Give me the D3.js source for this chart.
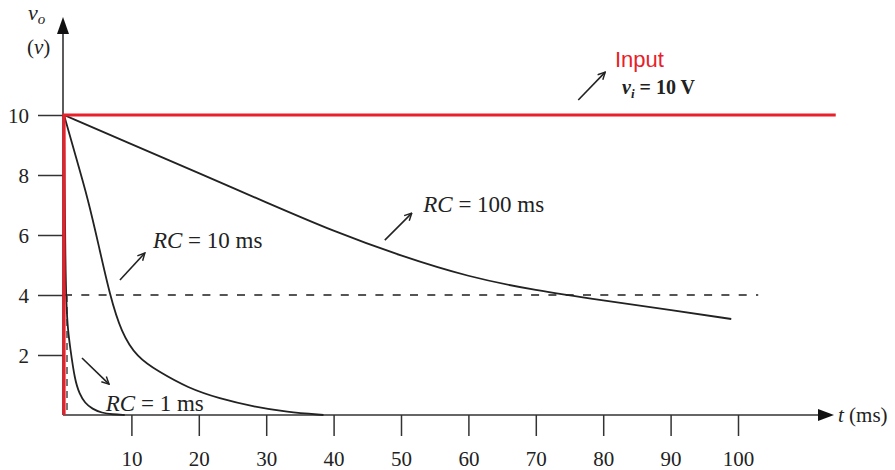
<!DOCTYPE html>
<html>
<head>
<meta charset="utf-8">
<script src="https://cdn.jsdelivr.net/npm/d3@7"></script>
<style>
  body { margin: 0; background: #fff; }
  svg text { fill: #222; }
</style>
</head>
<body>
<div id="chart"></div>
<script>
// tick labels
const xTicks = [10, 20, 30, 40, 50, 60, 70, 80, 90, 100];
const yTicks = [2, 4, 6, 8, 10];

// input step, vi = 10 V
const inputT = [0, 0, 114.5];
const inputV = [0, 10, 10];

// output curves (t in ms, vo in V)
const rc1T = [0, 0.1, 0.2, 0.35, 0.6, 0.9, 1.6, 2.3, 3.1, 4.2, 5.6, 7.2, 9];
const rc1V = [10, 7.5, 5.2, 3.6, 2.8, 2.27, 1.17, 0.7, 0.4, 0.2, 0.07, 0.02, 0];

const rc10T = [0, 1.6, 3.6, 5.2, 6.8, 8.5, 10.8, 14, 18.4, 23, 28.3, 33, 38.5];
const rc10V = [10, 8.73, 7.17, 5.6, 4.0, 2.75, 1.93, 1.45, 0.9, 0.55, 0.27, 0.1, 0];

const rc100T = [0, 10, 20, 30, 40, 50, 60, 70, 80, 90, 99];
const rc100V = [10, 9.03, 8.06, 7.09, 6.12, 5.3, 4.6, 4.15, 3.82, 3.5, 3.2];

// the 4 V reference line
const refT = [0, 103];
const refV = [4, 4];

const width = 895;
const height = 470;
const serif = "'Liberation Serif', 'DejaVu Serif', serif";

const svg = d3.select("#chart")
  .append("svg")
  .attr("width", width)
  .attr("height", height)
  .style("font-family", serif);

const x = d3.scaleLinear().domain([0, 100]).range([64, 738]);
const y = d3.scaleLinear().domain([0, 10]).range([415, 115]);

// open arrow head used by the annotations
svg.append("defs").append("marker")
  .attr("id", "open")
  .attr("viewBox", "0 0 10 10")
  .attr("refX", 9).attr("refY", 5)
  .attr("markerWidth", 9).attr("markerHeight", 9)
  .attr("markerUnits", "userSpaceOnUse")
  .attr("orient", "auto")
  .append("path")
  .attr("d", "M1,1 L9,5 L1,9")
  .attr("fill", "none")
  .attr("stroke", "#222")
  .attr("stroke-width", 1.6);

const line = d3.line().x(d => x(d[0])).y(d => y(d[1]));
const smooth = d3.line().x(d => x(d[0])).y(d => y(d[1])).curve(d3.curveBasis);
const zip = (a, b) => a.map((v, i) => [v, b[i]]);

// axes
const xAxis = svg.append("g")
  .attr("transform", `translate(0,${y(0)})`)
  .call(d3.axisBottom(x).tickValues(xTicks).tickSize(21).tickPadding(15));
const yAxis = svg.append("g")
  .attr("transform", `translate(${x(0) - 1},0)`)
  .call(d3.axisLeft(y).tickValues(yTicks).tickSize(25).tickPadding(9));

[xAxis, yAxis].forEach(g => {
  g.select(".domain").remove();
  g.selectAll(".tick line").attr("stroke", "#333").attr("stroke-width", 1.5);
  g.selectAll(".tick text")
    .attr("font-family", serif)
    .attr("font-size", 21)
    .attr("fill", "#222");
});
yAxis.selectAll(".tick text").attr("dy", "0.35em");

// axis lines with arrow tips
svg.append("line")
  .attr("x1", x(0) - 1).attr("y1", y(0))
  .attr("x2", 822).attr("y2", y(0))
  .attr("stroke", "#333").attr("stroke-width", 1.6);
svg.append("path")
  .attr("d", `M818,${y(0) - 6} L834,${y(0)} L818,${y(0) + 6} Z`)
  .attr("fill", "#111");

svg.append("line")
  .attr("x1", x(0) - 1).attr("y1", y(0))
  .attr("x2", x(0) - 1).attr("y2", 30)
  .attr("stroke", "#333").attr("stroke-width", 1.6);
svg.append("path")
  .attr("d", `M${x(0) - 7},34 L${x(0) - 1},17 L${x(0) + 5},34 Z`)
  .attr("fill", "#111");

// axis titles
const tLabel = svg.append("text")
  .attr("x", 838).attr("y", y(0) + 7)
  .attr("font-size", 21);
tLabel.append("tspan").attr("font-style", "italic").text("t");
tLabel.append("tspan").text(" (ms)");

const vLabel = svg.append("text")
  .attr("x", 28).attr("y", 20)
  .attr("font-size", 22);
vLabel.append("tspan").attr("font-style", "italic").text("v");
vLabel.append("tspan").attr("font-style", "italic").attr("font-size", 15).attr("dy", 4).text("o");

const unitLabel = svg.append("text")
  .attr("x", 27).attr("y", 54)
  .attr("font-size", 21);
unitLabel.append("tspan").text("(");
unitLabel.append("tspan").attr("font-style", "italic").text("v");
unitLabel.append("tspan").text(")");

// dashed reference lines
svg.append("path")
  .attr("d", line(zip(refT, refV)))
  .attr("fill", "none")
  .attr("stroke", "#555")
  .attr("stroke-width", 2)
  .attr("stroke-dasharray", "8,9.3");
svg.append("line")
  .attr("x1", x(0) + 3).attr("y1", y(4))
  .attr("x2", x(0) + 3).attr("y2", y(0))
  .attr("stroke", "#555")
  .attr("stroke-width", 1.6)
  .attr("stroke-dasharray", "7,5");

// output curves
[[rc1T, rc1V], [rc10T, rc10V], [rc100T, rc100V]].forEach(([t, v]) => {
  svg.append("path")
    .attr("d", smooth(zip(t, v)))
    .attr("fill", "none")
    .attr("stroke", "#222")
    .attr("stroke-width", 1.8);
});

// input step
svg.append("path")
  .attr("d", line(zip(inputT, inputV)))
  .attr("fill", "none")
  .attr("stroke", "#e8202a")
  .attr("stroke-width", 3.2)
  .attr("stroke-linejoin", "miter");

// annotations (positions in data units)
const arrows = [
  { from: [76.3, 10.5], to: [80.3, 11.43] },
  { from: [47.6, 5.83], to: [51.6, 6.73] },
  { from: [8.3, 4.5], to: [12.0, 5.4] },
  { from: [2.67, 1.9], to: [6.68, 1.03] }
];
arrows.forEach(a => {
  svg.append("line")
    .attr("x1", x(a.from[0])).attr("y1", y(a.from[1]))
    .attr("x2", x(a.to[0])).attr("y2", y(a.to[1]))
    .attr("stroke", "#222")
    .attr("stroke-width", 1.6)
    .attr("marker-end", "url(#open)");
});

const rcLabels = [
  { t: 53.3, v: 6.77, text: "100 ms" },
  { t: 13.2, v: 5.57, text: "10 ms" },
  { t: 6.2, v: 0.13, text: "1 ms" }
];
rcLabels.forEach(d => {
  const txt = svg.append("text")
    .attr("x", x(d.t)).attr("y", y(d.v))
    .attr("font-size", 23);
  txt.append("tspan").attr("font-style", "italic").text("RC");
  txt.append("tspan").text(" = " + d.text);
});

svg.append("text")
  .attr("x", x(81.75)).attr("y", y(11.6))
  .style("font-family", "'Liberation Sans', Arial, sans-serif")
  .attr("font-size", 22)
  .style("fill", "#e8202a")
  .text("Input");

const vi = svg.append("text")
  .attr("x", x(82.8)).attr("y", y(10.7))
  .attr("font-size", 20)
  .attr("font-weight", "bold");
vi.append("tspan").attr("font-style", "italic").text("v");
vi.append("tspan").attr("font-style", "italic").attr("font-size", 13).attr("dy", 4).text("i");
vi.append("tspan").attr("dy", -4).text(" = 10 V");
</script>
</body>
</html>
